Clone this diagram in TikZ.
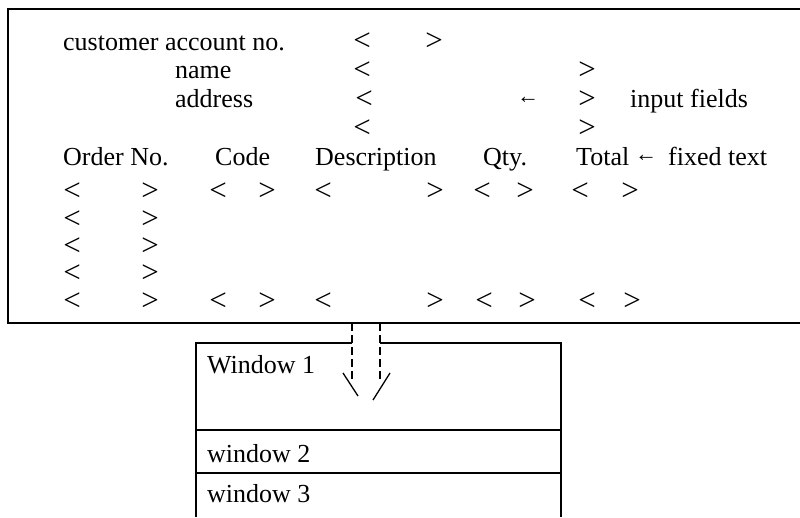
\documentclass[tikz,border=0pt]{standalone}
\usepackage{fontspec}
\setmainfont{Liberation Serif}
\begin{document}
\begin{tikzpicture}[x=1pt,y=-1pt,
  lbl/.style={anchor=base west, inner sep=0pt, font=\fontsize{26}{30}\selectfont},
  chev/.style={anchor=center, inner sep=0pt, font=\fontsize{31}{34}\selectfont},
  arr/.style={anchor=center, inner sep=0pt, font=\fontsize{22}{26}\selectfont},
  frameline/.style={line width=1.8pt},
  winline/.style={line width=1.3pt},
  shaft/.style={line width=1.3pt, dash pattern=on 8pt off 4pt},
  headline/.style={line width=1.3pt}]
\useasboundingbox (0,0) rectangle (800,517);

% screen form frame (open on the right)
\coordinate (ftr) at (800,9);
\coordinate (ftl) at (8,9);
\coordinate (fbl) at (8,323);
\coordinate (fbr) at (800,323);
\draw[frameline] (ftr) -- (ftl) -- (fbl) -- (fbr);

% header fields
\node[lbl] (cust) at (63,50) {customer account no.};
\node[lbl] (name) at (175,78) {name};
\node[lbl] (addr) at (175,107) {address};
\node[chev] (c1l) at (362,42) {<};
\node[chev] (c1r) at (434,42) {>};
\node[chev] (c2l) at (362,71) {<};
\node[chev] (c2r) at (587,71) {>};
\node[chev] (c3l) at (364,100) {<};
\node[arr]  (a3)  at (528,100) {←};
\node[chev] (c3r) at (587,100) {>};
\node[lbl]  (inp) at (630,107) {input fields};
\node[chev] (c4l) at (362,129) {<};
\node[chev] (c4r) at (587,129) {>};

% column headings
\node[lbl] (hord) at (63,165) {Order No.};
\node[lbl] (hcod) at (215,165) {Code};
\node[lbl] (hdes) at (315,165) {Description};
\node[lbl] (hqty) at (483,165) {Qty.};
\node[lbl] (htot) at (576,165) {Total};
\node[arr] (a5)   at (646,158) {←};
\node[lbl] (fix)  at (668,165) {fixed text};

% order lines: first and last rows have all fields
\foreach \x/\n/\c in {72/a/<,150/b/>,218/c/<,267/d/>,323/e/<,435/f/>,482/g/<,525/h/>,580/i/<,630/j/>}
  \node[chev] (r6\n) at (\x,192) {\c};
\foreach \y/\r in {219.5/7,246.5/8,273.5/9}{
  \node[chev] (r\r a) at (72,\y) {<};
  \node[chev] (r\r b) at (150,\y) {>};
}
\foreach \x/\n/\c in {72/a/<,150/b/>,218/c/<,267/d/>,323/e/<,435/f/>,484/g/<,527/h/>,587/i/<,632/j/>}
  \node[chev] (r10\n) at (\x,302) {\c};

% windows below the form
\coordinate (wbl) at (196,517);
\coordinate (wtl) at (196,343);
\coordinate (gl)  at (352,343);
\coordinate (gr)  at (380,343);
\coordinate (wtr) at (561,343);
\coordinate (wbr) at (561,517);
\coordinate (sl) at (352,323);
\coordinate (sr) at (380,323);
\draw[winline] (wbl) -- (wtl) -- (gl);
\draw[winline] (gr) -- (wtr) -- (wbr);
\coordinate (w2l) at (196,430);
\coordinate (w2r) at (561,430);
\coordinate (w3l) at (196,473);
\coordinate (w3r) at (561,473);
\draw[winline] (w2l) -- (w2r);
\draw[winline] (w3l) -- (w3r);
\node[lbl] (win1) at (207,373) {Window 1};
\node[lbl] (win2) at (207,462) {window 2};
\node[lbl] (win3) at (207,502) {window 3};

% hollow arrow from the form into window 1
\coordinate (el) at (352,382);
\coordinate (er) at (380,382);
\draw[shaft] (sl) -- (el);
\draw[shaft] (sr) -- (er);
\coordinate (hl1) at (343,373);
\coordinate (hl2) at (358,396);
\coordinate (hr1) at (390,373);
\coordinate (hr2) at (373,400);
\draw[headline] (hl1) -- (hl2);
\draw[headline] (hr1) -- (hr2);
\end{tikzpicture}
\end{document}
